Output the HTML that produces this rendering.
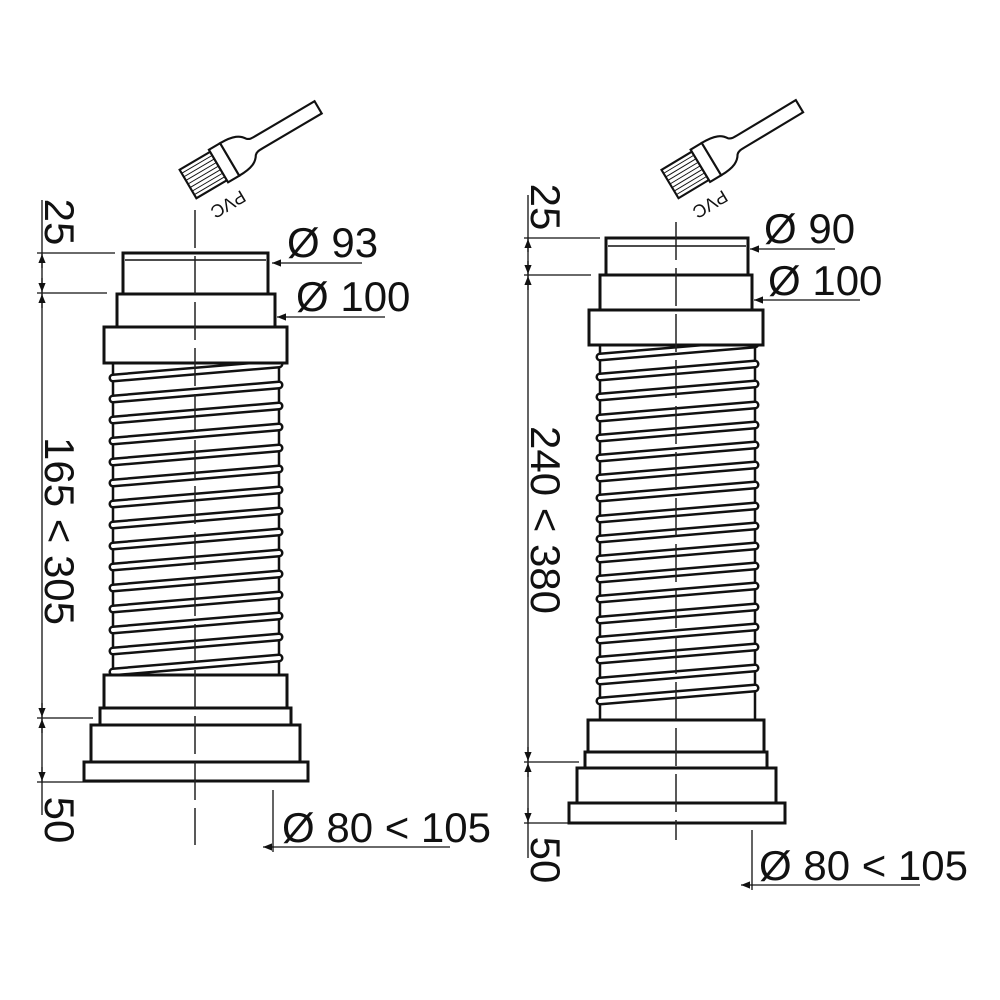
<!DOCTYPE html>
<html><head><meta charset="utf-8"><style>
html,body{margin:0;padding:0;background:#fff;}
svg{display:block;}
text{font-family:"Liberation Sans",Arial,sans-serif;fill:#111;}
</style></head><body>
<svg width="1000" height="1000" viewBox="0 0 1000 1000" xmlns="http://www.w3.org/2000/svg">
<defs>
<g id="brush">
  <rect x="0" y="-14" width="30" height="28" fill="#fff" stroke="#111" stroke-width="1.8"/>
  <g stroke="#111" stroke-width="0.8">
    <line x1="0" y1="-10.5" x2="30" y2="-10.5"/><line x1="0" y1="-7" x2="30" y2="-7"/>
    <line x1="0" y1="-3.5" x2="30" y2="-3.5"/><line x1="0" y1="0" x2="30" y2="0"/>
    <line x1="0" y1="3.5" x2="30" y2="3.5"/><line x1="0" y1="7" x2="30" y2="7"/>
    <line x1="0" y1="10.5" x2="30" y2="10.5"/>
  </g>
  <rect x="30" y="-16" width="11" height="32" fill="#fff" stroke="#111" stroke-width="1.8"/>
  <path d="M41,-16 C54,-16 59,-13 62,-8 C64,-6 66,-6 70,-6 L128,-6 L128,6 L70,6 C66,6 64,6 62,8 C59,13 54,16 41,16 Z" fill="#fff" stroke="#111" stroke-width="1.8"/>
</g>
<marker id="a" viewBox="0 0 10 10" refX="10" refY="5" markerWidth="10" markerHeight="9" orient="auto-start-reverse" markerUnits="userSpaceOnUse"><path d="M0,1 L10,5 L0,9 Z" fill="#111"/></marker>
</defs>

<!-- ========== LEFT ========== -->
<g transform="translate(188,184) rotate(-30.5) scale(1.18)"><use href="#brush"/></g>
<text x="0" y="0" font-size="18" text-anchor="middle" transform="translate(225,199) rotate(149.5)">PVC</text>

<g fill="none" stroke="#111" stroke-width="2.5">
  <line x1="113" y1="363" x2="113" y2="675"/>
  <line x1="279" y1="363" x2="279" y2="675"/>
</g>
<g fill="none" stroke="#111" stroke-width="3">
  <rect x="123" y="253" width="145" height="41" fill="#fff"/>
  <line x1="125" y1="260" x2="266" y2="260" stroke-width="1.5"/>
  <rect x="117" y="294" width="158" height="33" fill="#fff"/>
  <rect x="100" y="708" width="191" height="17" fill="#fff"/>
  <rect x="91" y="725" width="209" height="37" fill="#fff"/>
  <rect x="84" y="762" width="224" height="19" fill="#fff"/>
</g>

<!-- left dims -->
<g stroke="#111" stroke-width="1.3" fill="none">
  <line x1="42" y1="200" x2="42" y2="815"/>
  <line x1="37" y1="253" x2="115" y2="253"/>
  <line x1="37" y1="293" x2="107" y2="293"/>
  <line x1="37" y1="718" x2="93" y2="718"/>
  <line x1="37" y1="782" x2="120" y2="782"/>
  <line x1="42" y1="268" x2="42" y2="254" marker-end="url(#a)"/>
  <line x1="42" y1="278" x2="42" y2="292" marker-end="url(#a)"/>
  <line x1="42" y1="308" x2="42" y2="294" marker-end="url(#a)"/>
  <line x1="42" y1="703" x2="42" y2="717" marker-end="url(#a)"/>
  <line x1="42" y1="733" x2="42" y2="719" marker-end="url(#a)"/>
  <line x1="42" y1="767" x2="42" y2="781" marker-end="url(#a)"/>
  <line x1="362" y1="263" x2="272" y2="263" marker-end="url(#a)"/>
  <line x1="385" y1="317" x2="277" y2="317" marker-end="url(#a)"/>
  <line x1="273" y1="790" x2="273" y2="852"/>
  <line x1="450" y1="847" x2="263" y2="847" marker-end="url(#a)"/>
</g>
<text font-size="42" text-anchor="middle" transform="translate(45,222) rotate(90)">25</text>
<text font-size="42" text-anchor="middle" transform="translate(45,531) rotate(90)">165 &lt; 305</text>
<text font-size="42" text-anchor="middle" transform="translate(45,820) rotate(90)">50</text>
<text x="287" y="257" font-size="42">Ø 93</text>
<text x="296" y="311" font-size="42">Ø 100</text>
<text x="282" y="842" font-size="42">Ø 80 &lt; 105</text>

<!-- ========== RIGHT ========== -->
<g transform="translate(670,184) rotate(-31) scale(1.18)"><use href="#brush"/></g>
<text x="0" y="0" font-size="18" text-anchor="middle" transform="translate(707,199) rotate(149)">PVC</text>

<g fill="none" stroke="#111" stroke-width="2.5">
  <line x1="600" y1="345" x2="600" y2="720"/>
  <line x1="755" y1="345" x2="755" y2="720"/>
</g>
<g fill="none" stroke="#111" stroke-width="3">
  <rect x="606" y="238" width="142" height="37" fill="#fff"/>
  <line x1="608" y1="246" x2="746" y2="246" stroke-width="1.5"/>
  <rect x="600" y="275" width="152" height="35" fill="#fff"/>
  <rect x="585" y="752" width="182" height="16" fill="#fff"/>
  <rect x="577" y="768" width="199" height="35" fill="#fff"/>
  <rect x="569" y="803" width="216" height="20" fill="#fff"/>
</g>

<g stroke="#111" stroke-width="1.3" fill="none">
  <line x1="528" y1="195" x2="528" y2="858"/>
  <line x1="524" y1="238" x2="600" y2="238"/>
  <line x1="524" y1="275" x2="591" y2="275"/>
  <line x1="524" y1="762" x2="579" y2="762"/>
  <line x1="524" y1="823" x2="568" y2="823"/>
  <line x1="528" y1="252" x2="528" y2="239" marker-end="url(#a)"/>
  <line x1="528" y1="261" x2="528" y2="274" marker-end="url(#a)"/>
  <line x1="528" y1="290" x2="528" y2="276" marker-end="url(#a)"/>
  <line x1="528" y1="747" x2="528" y2="761" marker-end="url(#a)"/>
  <line x1="528" y1="777" x2="528" y2="763" marker-end="url(#a)"/>
  <line x1="528" y1="808" x2="528" y2="822" marker-end="url(#a)"/>
  <line x1="835" y1="249" x2="750" y2="249" marker-end="url(#a)"/>
  <line x1="860" y1="300" x2="754" y2="300" marker-end="url(#a)"/>
  <line x1="752" y1="830" x2="752" y2="890"/>
  <line x1="920" y1="885" x2="741" y2="885" marker-end="url(#a)"/>
</g>
<text font-size="42" text-anchor="middle" transform="translate(531,207) rotate(90)">25</text>
<text font-size="42" text-anchor="middle" transform="translate(531,520) rotate(90)">240 &lt; 380</text>
<text font-size="42" text-anchor="middle" transform="translate(531,860) rotate(90)">50</text>
<text x="764" y="243" font-size="42">Ø 90</text>
<text x="768" y="295" font-size="42">Ø 100</text>
<text x="759" y="880" font-size="42">Ø 80 &lt; 105</text>

<!-- ribs -->
<g stroke-linecap="round" fill="none">
  <g stroke="#111" stroke-width="9">
    <line x1="113" y1="378" x2="279" y2="364"/><line x1="113" y1="399" x2="279" y2="385"/>
    <line x1="113" y1="420" x2="279" y2="406"/><line x1="113" y1="441" x2="279" y2="427"/>
    <line x1="113" y1="462" x2="279" y2="448"/><line x1="113" y1="483" x2="279" y2="469"/>
    <line x1="113" y1="504" x2="279" y2="490"/><line x1="113" y1="525" x2="279" y2="511"/>
    <line x1="113" y1="546" x2="279" y2="532"/><line x1="113" y1="567" x2="279" y2="553"/>
    <line x1="113" y1="588" x2="279" y2="574"/><line x1="113" y1="609" x2="279" y2="595"/>
    <line x1="113" y1="630" x2="279" y2="616"/><line x1="113" y1="651" x2="279" y2="637"/>
    <line x1="113" y1="672" x2="279" y2="658"/>
  </g>
  <g stroke="#fff" stroke-width="4">
    <line x1="113" y1="378" x2="279" y2="364"/><line x1="113" y1="399" x2="279" y2="385"/>
    <line x1="113" y1="420" x2="279" y2="406"/><line x1="113" y1="441" x2="279" y2="427"/>
    <line x1="113" y1="462" x2="279" y2="448"/><line x1="113" y1="483" x2="279" y2="469"/>
    <line x1="113" y1="504" x2="279" y2="490"/><line x1="113" y1="525" x2="279" y2="511"/>
    <line x1="113" y1="546" x2="279" y2="532"/><line x1="113" y1="567" x2="279" y2="553"/>
    <line x1="113" y1="588" x2="279" y2="574"/><line x1="113" y1="609" x2="279" y2="595"/>
    <line x1="113" y1="630" x2="279" y2="616"/><line x1="113" y1="651" x2="279" y2="637"/>
    <line x1="113" y1="672" x2="279" y2="658"/>
  </g>
  <g stroke="#111" stroke-width="9">
    <line x1="600" y1="357" x2="755" y2="344"/><line x1="600" y1="377" x2="755" y2="364"/>
    <line x1="600" y1="397" x2="755" y2="384"/><line x1="600" y1="418" x2="755" y2="405"/>
    <line x1="600" y1="438" x2="755" y2="425"/><line x1="600" y1="458" x2="755" y2="445"/>
    <line x1="600" y1="478" x2="755" y2="465"/><line x1="600" y1="498" x2="755" y2="485"/>
    <line x1="600" y1="519" x2="755" y2="506"/><line x1="600" y1="539" x2="755" y2="526"/>
    <line x1="600" y1="559" x2="755" y2="546"/><line x1="600" y1="579" x2="755" y2="566"/>
    <line x1="600" y1="599" x2="755" y2="586"/><line x1="600" y1="620" x2="755" y2="607"/>
    <line x1="600" y1="640" x2="755" y2="627"/><line x1="600" y1="660" x2="755" y2="647"/>
    <line x1="600" y1="681" x2="755" y2="668"/><line x1="600" y1="701" x2="755" y2="688"/>
  </g>
  <g stroke="#fff" stroke-width="4">
    <line x1="600" y1="357" x2="755" y2="344"/><line x1="600" y1="377" x2="755" y2="364"/>
    <line x1="600" y1="397" x2="755" y2="384"/><line x1="600" y1="418" x2="755" y2="405"/>
    <line x1="600" y1="438" x2="755" y2="425"/><line x1="600" y1="458" x2="755" y2="445"/>
    <line x1="600" y1="478" x2="755" y2="465"/><line x1="600" y1="498" x2="755" y2="485"/>
    <line x1="600" y1="519" x2="755" y2="506"/><line x1="600" y1="539" x2="755" y2="526"/>
    <line x1="600" y1="559" x2="755" y2="546"/><line x1="600" y1="579" x2="755" y2="566"/>
    <line x1="600" y1="599" x2="755" y2="586"/><line x1="600" y1="620" x2="755" y2="607"/>
    <line x1="600" y1="640" x2="755" y2="627"/><line x1="600" y1="660" x2="755" y2="647"/>
    <line x1="600" y1="681" x2="755" y2="668"/><line x1="600" y1="701" x2="755" y2="688"/>
  </g>
</g>
<g fill="none" stroke="#111" stroke-width="3">
  <rect x="104" y="327" width="183" height="36" fill="#fff"/>
  <rect x="104" y="675" width="183" height="33" fill="#fff"/>
  <rect x="589" y="310" width="174" height="35" fill="#fff"/>
  <rect x="588" y="720" width="176" height="32" fill="#fff"/>
</g>
<line x1="195" y1="210" x2="195" y2="845" stroke="#222" stroke-width="1.5" stroke-dasharray="38,8"/>
<line x1="676" y1="222" x2="676" y2="840" stroke="#222" stroke-width="1.5" stroke-dasharray="38,8"/>
</svg>
</body></html>
